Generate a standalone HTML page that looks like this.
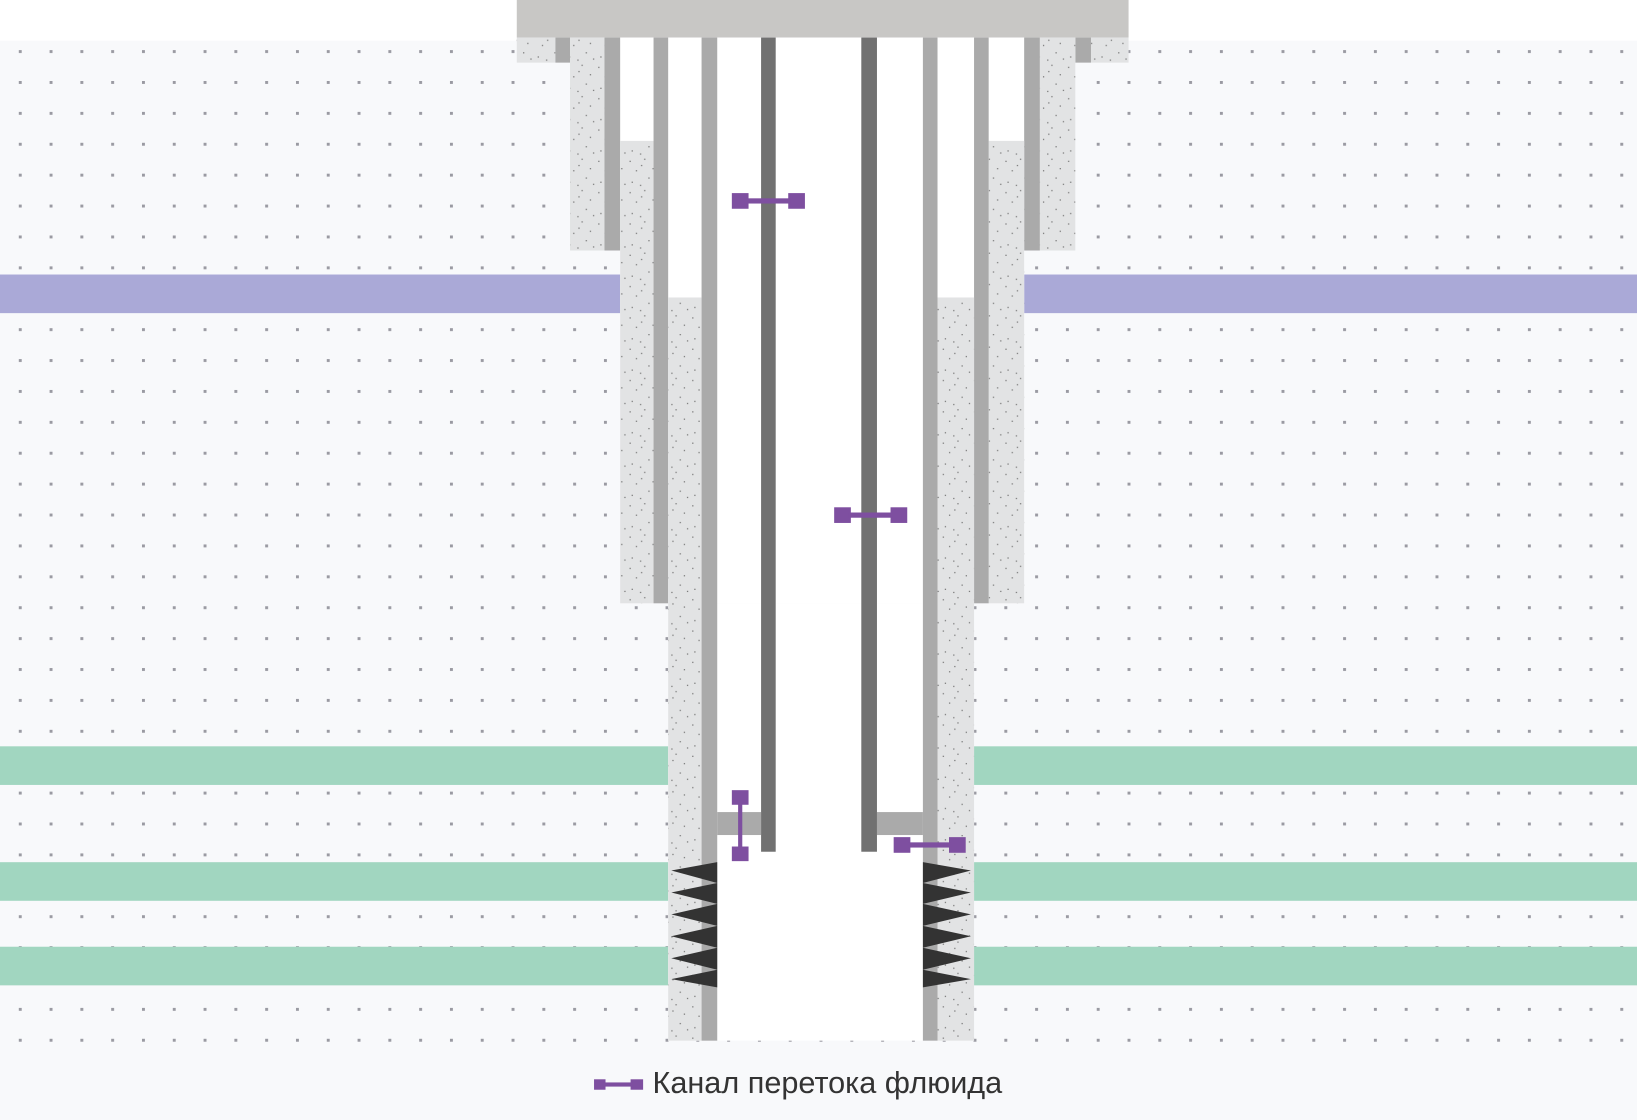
<!DOCTYPE html>
<html><head><meta charset="utf-8"><style>html,body{margin:0;padding:0;background:#fff}svg{display:block}</style></head>
<body>
<svg width="1637" height="1120" viewBox="0 0 1568 1073" preserveAspectRatio="none" xmlns="http://www.w3.org/2000/svg">
<defs>
<pattern id="dots" x="18" y="48" width="29.5" height="29.6" patternUnits="userSpaceOnUse">
<rect x="0" y="0" width="2.8" height="2.8" fill="#9a9aa2"/>
</pattern>
<pattern id="sand" x="0" y="0" width="30" height="30" patternUnits="userSpaceOnUse">
<rect width="30" height="30" fill="#e2e3e4"/>
<g fill="#777">
<rect x="3" y="4" width="1.2" height="1.2"/><rect x="17" y="2" width="1.2" height="1.2"/><rect x="25" y="11" width="1.2" height="1.2"/>
<rect x="9" y="13" width="1.2" height="1.2"/><rect x="21" y="20" width="1.2" height="1.2"/><rect x="5" y="24" width="1.2" height="1.2"/>
<rect x="13" y="27" width="1.2" height="1.2"/><rect x="28" y="26" width="1.2" height="1.2"/><rect x="14" y="8" width="1.2" height="1.2"/>
</g>
</pattern>
</defs>
<rect x="0" y="39" width="1568" height="1034" fill="#f8f9fb"/>
<rect x="0" y="39" width="1568" height="960" fill="url(#dots)"/>
<rect x="0" y="263" width="1568" height="37" fill="#aaa9d7"/>
<rect x="0" y="715" width="1568" height="37" fill="#a1d6c0"/>
<rect x="0" y="826" width="1568" height="37" fill="#a1d6c0"/>
<rect x="0" y="907" width="1568" height="37" fill="#a1d6c0"/>
<rect x="495" y="0" width="586" height="36" fill="#c8c7c5"/>
<rect x="495" y="36" width="37" height="24" fill="url(#sand)"/>
<rect x="1045" y="36" width="36" height="24" fill="url(#sand)"/>
<rect x="532" y="36" width="14" height="24" fill="#aaa"/>
<rect x="1030" y="36" width="15" height="24" fill="#aaa"/>
<rect x="594" y="36" width="387" height="204" fill="#fff"/>
<rect x="594" y="240" width="387" height="338" fill="#fff"/>
<rect x="640" y="578" width="293" height="419" fill="#fff"/>
<rect x="546" y="36" width="33" height="204" fill="url(#sand)"/>
<rect x="579" y="36" width="15" height="204" fill="#aaa"/>
<rect x="996" y="36" width="34" height="204" fill="url(#sand)"/>
<rect x="981" y="36" width="15" height="204" fill="#aaa"/>
<rect x="594" y="135" width="32" height="443" fill="url(#sand)"/>
<rect x="626" y="36" width="14" height="542" fill="#aaa"/>
<rect x="947" y="135" width="34" height="443" fill="url(#sand)"/>
<rect x="933" y="36" width="14" height="542" fill="#aaa"/>
<rect x="640" y="285" width="32" height="712" fill="url(#sand)"/>
<rect x="672" y="36" width="15" height="961" fill="#aaa"/>
<rect x="898" y="285" width="35" height="712" fill="url(#sand)"/>
<rect x="884" y="36" width="14" height="961" fill="#aaa"/>
<rect x="687" y="778" width="42" height="22" fill="#aaa"/>
<rect x="840" y="778" width="44" height="22" fill="#aaa"/>
<rect x="729" y="36" width="14" height="780" fill="#717171"/>
<rect x="825" y="36" width="15" height="780" fill="#717171"/>
<g fill="#333">
<polygon points="687,826 643,834 687,846"/><polygon points="687,846 643,855 687,866"/><polygon points="687,866 643,876 687,887"/>
<polygon points="687,887 643,897 687,908"/><polygon points="687,908 643,918 687,929"/><polygon points="687,929 643,938 687,946"/>
<polygon points="884,826 930,834 884,846"/><polygon points="884,846 930,855 884,866"/><polygon points="884,866 930,876 884,887"/>
<polygon points="884,887 930,897 884,908"/><polygon points="884,908 930,918 884,929"/><polygon points="884,929 930,938 884,946"/>
</g>
<g fill="#7e4fa0">
<rect x="701" y="185" width="16" height="15"/><rect x="755" y="185" width="16" height="15"/><rect x="715" y="190" width="42" height="5"/>
<rect x="799" y="486" width="16" height="15"/><rect x="853" y="486" width="16" height="15"/><rect x="813" y="491" width="42" height="5"/>
<rect x="701" y="757" width="16" height="14"/><rect x="701" y="811" width="16" height="14"/><rect x="707" y="769" width="4" height="44"/>
<rect x="856" y="802" width="16" height="15"/><rect x="909" y="802" width="16" height="15"/><rect x="870" y="807" width="41" height="5"/>
<rect x="569" y="1034" width="11" height="10"/><rect x="604" y="1034" width="12" height="10"/><rect x="578" y="1037" width="28" height="4"/>
</g>
<text x="625" y="1047" font-family="Liberation Sans, sans-serif" font-size="29" fill="#333" textLength="335" lengthAdjust="spacingAndGlyphs">Канал перетока флюида</text>
</svg>
</body></html>
